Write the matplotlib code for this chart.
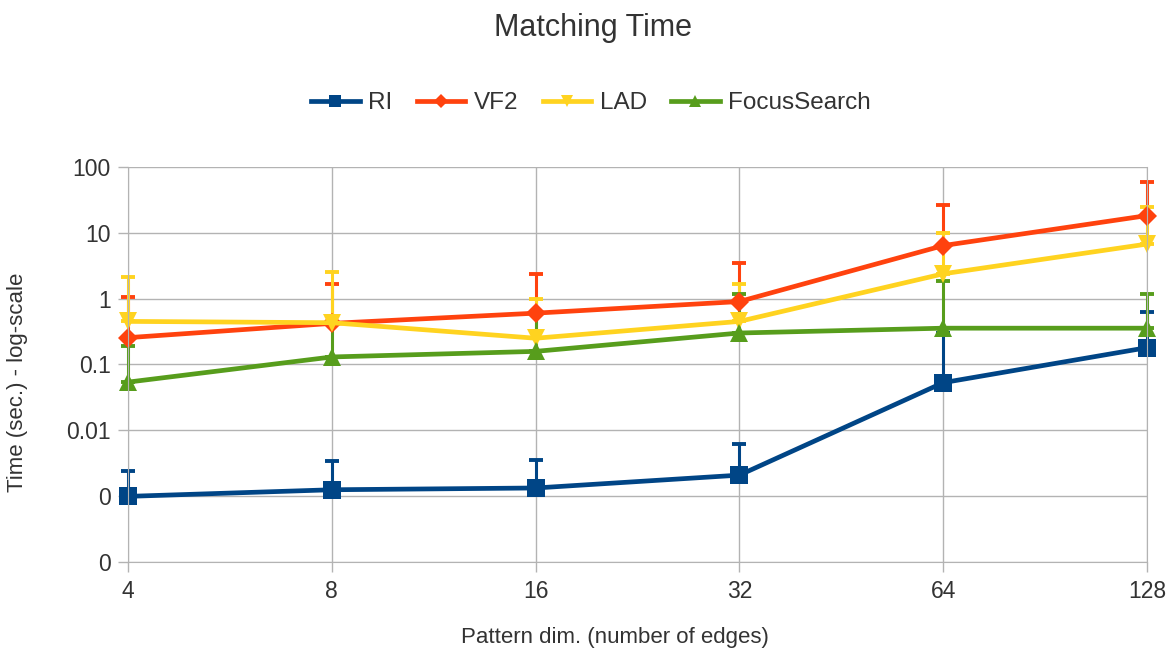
import numpy as np
import matplotlib.pyplot as plt
from matplotlib.lines import Line2D
from matplotlib.ticker import FixedLocator, FixedFormatter

plt.rcParams['font.family'] = ['Liberation Sans', 'DejaVu Sans']

# pattern sizes (number of edges)
sizes = ['4', '8', '16', '32', '64', '128']

# mean matching time (sec.) and upper end of the error bar
ri = [0.001, 0.00126, 0.00134, 0.0021, 0.053, 0.18]
ri_top = [0.0024, 0.0034, 0.0035, 0.0062, 0.30, 0.62]
vf2 = [0.255, 0.42, 0.60, 0.90, 6.35, 18.1]
vf2_top = [1.05, 1.65, 2.37, 3.5, 26.0, 59.0]
lad = [0.45, 0.43, 0.25, 0.45, 2.37, 6.7]
lad_top = [2.15, 2.5, 1.0, 1.65, 10.0, 24.0]
focus = [0.054, 0.13, 0.158, 0.30, 0.355, 0.355]
focus_top = [0.19, 0.55, 0.62, 1.17, 1.85, 1.18]

series = [
    ('RI', ri, ri_top, '#004586', 's', 12.5),
    ('VF2', vf2, vf2_top, '#ff420e', 'D', 10),
    ('LAD', lad, lad_top, '#ffd320', 'v', 13),
    ('FocusSearch', focus, focus_top, '#579d1c', '^', 13),
]
text_color = '#333333'

fig = plt.figure(figsize=(11.72, 6.56), dpi=100)
ax = fig.add_axes([0.1092, 0.1428, 0.8695, 0.6032])

x = np.arange(len(sizes))
handles = []
for name, vals, tops, color, marker, ms in series:
    vals = np.array(vals)
    upper = np.array(tops) - vals
    line, caps, bars = ax.errorbar(x, vals, yerr=[np.zeros_like(vals), upper],
                                   color=color, lw=3.4, marker=marker, ms=ms,
                                   elinewidth=2.2, capsize=5, capthick=2.8)
    line.set_markeredgewidth(0)
    for art in (line, *caps, *bars):
        art.set_clip_on(False)
    handles.append(Line2D([], [], color=color, lw=3.4, marker=marker,
                          ms=ms * 0.7, mew=0, label=name))

ax.set_yscale('log')
ax.set_ylim(1e-4, 100)
ax.set_xlim(0, len(sizes) - 1)

yt = [1e-4, 1e-3, 1e-2, 1e-1, 1, 10, 100]
ax.yaxis.set_major_locator(FixedLocator(yt))
ax.yaxis.set_major_formatter(FixedFormatter(['0', '0', '0.01', '0.1', '1', '10', '100']))
ax.yaxis.set_minor_locator(FixedLocator([]))
ax.set_xticks(x)
ax.set_xticklabels(sizes)

ax.grid(True, color='#b3b3b3', lw=1)
ax.set_axisbelow(True)
for side in ['left', 'bottom', 'right', 'top']:
    ax.spines[side].set_color('#b3b3b3')
ax.spines['top'].set_visible(False)
ax.tick_params(colors='#b3b3b3', labelcolor=text_color, labelsize=16.5,
               length=7.5, width=1, pad=5)

fig.text(18 / 1172, 1 - 382 / 656, 'Time (sec.) - log-scale', rotation=90,
         ha='center', va='center', fontsize=16, color=text_color)
fig.text(615 / 1172, 1 - 638 / 656, 'Pattern dim. (number of edges)',
         ha='center', va='center', fontsize=16, color=text_color)
fig.text(593 / 1172, 1 - 28 / 656, 'Matching Time',
         ha='center', va='center', fontsize=22, color=text_color)

leg = fig.legend(handles=handles, loc='center', bbox_to_anchor=(591 / 1172, 1 - 103 / 656),
                 ncol=4, frameon=False, fontsize=17.5, handlelength=2.0,
                 columnspacing=1.0, handletextpad=0.35)
for t in leg.get_texts():
    t.set_color(text_color)

fig.savefig('out.png', dpi=100)
